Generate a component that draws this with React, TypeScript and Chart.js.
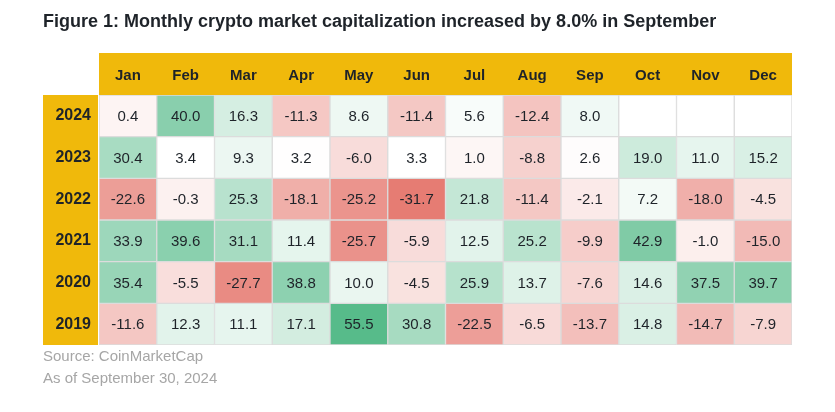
import { useEffect, useRef } from "react";
import { Chart, registerables } from "chart.js";

Chart.register(...registerables);

const months = ["Jan", "Feb", "Mar", "Apr", "May", "Jun", "Jul", "Aug", "Sep", "Oct", "Nov", "Dec"];
const years = ["2024", "2023", "2022", "2021", "2020", "2019"];

const v2024 = [0.4, 40.0, 16.3, -11.3, 8.6, -11.4, 5.6, -12.4, 8.0, null, null, null];
const v2023 = [30.4, 3.4, 9.3, 3.2, -6.0, 3.3, 1.0, -8.8, 2.6, 19.0, 11.0, 15.2];
const v2022 = [-22.6, -0.3, 25.3, -18.1, -25.2, -31.7, 21.8, -11.4, -2.1, 7.2, -18.0, -4.5];
const v2021 = [33.9, 39.6, 31.1, 11.4, -25.7, -5.9, 12.5, 25.2, -9.9, 42.9, -1.0, -15.0];
const v2020 = [35.4, -5.5, -27.7, 38.8, 10.0, -4.5, 25.9, 13.7, -7.6, 14.6, 37.5, 39.7];
const v2019 = [-11.6, 12.3, 11.1, 17.1, 55.5, 30.8, -22.5, -6.5, -13.7, 14.8, -14.7, -7.9];

const rows: (number | null)[][] = [v2024, v2023, v2022, v2021, v2020, v2019];

const titleText = "Figure 1: Monthly crypto market capitalization increased by 8.0% in September";
const footerLines = ["Source: CoinMarketCap", "As of September 30, 2024"];

const RED = [230, 124, 115];
const WHITE = [255, 255, 255];
const GREEN = [87, 187, 138];

const sorted = (rows.flat().filter((v) => v != null) as number[]).sort((a, b) => a - b);
const minV = sorted[0];
const maxV = sorted[sorted.length - 1];
const midV =
  sorted.length % 2
    ? sorted[(sorted.length - 1) / 2]
    : (sorted[sorted.length / 2 - 1] + sorted[sorted.length / 2]) / 2;

function mix(a: number[], b: number[], t: number) {
  const c = a.map((x, i) => Math.round(x + (b[i] - x) * t));
  return `rgb(${c[0]},${c[1]},${c[2]})`;
}

function colorFor(v: number | null) {
  if (v == null) return "#ffffff";
  if (v <= midV) return mix(RED, WHITE, (v - minV) / (midV - minV));
  return mix(WHITE, GREEN, (v - midV) / (maxV - midV));
}

const FONT = "'Liberation Sans', Arial, sans-serif";

const headerBg = {
  id: "headerBg",
  beforeDraw(chart: any) {
    const ctx = chart.ctx;
    ctx.save();
    ctx.fillStyle = "#f0b90b";
    const xs = chart.scales.x;
    ctx.fillRect(xs.left, xs.top, xs.width, xs.height);
    const ys = chart.scales.yr;
    ctx.fillRect(ys.left, ys.top, ys.width - 1, ys.height);
    ctx.restore();
  },
};

const cellLabels = {
  id: "cellLabels",
  afterDatasetsDraw(chart: any) {
    const ctx = chart.ctx;
    ctx.save();
    ctx.font = `15px ${FONT}`;
    ctx.fillStyle = "#1e2329";
    ctx.textAlign = "center";
    ctx.textBaseline = "middle";
    chart.data.datasets.forEach((_ds: any, di: number) => {
      const meta = chart.getDatasetMeta(di);
      meta.data.forEach((el: any, i: number) => {
        const v = rows[di][i];
        if (v == null) return;
        const p = el.getCenterPoint();
        ctx.fillText(v.toFixed(1), p.x, p.y + 1);
      });
    });
    ctx.restore();
  },
};

export default function App() {
  const ref = useRef<HTMLCanvasElement>(null);

  useEffect(() => {
    document.body.style.margin = "0";
    const canvas = ref.current;
    if (!canvas) return;
    const chart = new Chart(canvas, {
      type: "bar",
      data: {
        labels: months,
        datasets: rows.map((vals, r) => ({
          label: years[r],
          data: vals.map(() => [r, r + 1]),
          backgroundColor: vals.map((v) => colorFor(v)),
          borderColor: "#dcdcdc",
          borderWidth: 1,
          borderSkipped: false,
          grouped: false,
          barPercentage: 1,
          categoryPercentage: 1,
          yAxisID: "y",
        })) as any,
      },
      plugins: [headerBg, cellLabels],
      options: {
        responsive: false,
        animation: false,
        events: [],
        layout: { padding: { left: 43, right: 43, top: 0, bottom: 0 } },
        scales: {
          x: {
            type: "category",
            position: "top",
            offset: true,
            grid: { display: false },
            border: { display: false },
            ticks: {
              color: "#1e2329",
              font: { family: FONT, size: 15, weight: "bold" },
              padding: 2,
              maxRotation: 0,
            },
            afterFit: (s: any) => {
              s.height = 42;
            },
          },
          y: {
            type: "linear",
            display: false,
            min: 0,
            max: 6,
            reverse: true,
          },
          yr: {
            type: "category",
            position: "left",
            labels: years,
            offset: true,
            grid: { display: false },
            border: { display: false },
            ticks: {
              color: "#1e2329",
              font: { family: FONT, size: 16, weight: "bold" },
              crossAlign: "center",
              padding: 0,
            },
            afterFit: (s: any) => {
              s.width = 56;
            },
          },
        } as any,
        plugins: {
          legend: { display: false },
          tooltip: { enabled: false },
          title: {
            display: true,
            text: titleText,
            align: "start",
            color: "#1e2329",
            font: { family: FONT, size: 18, weight: "bold", lineHeight: 1.2 },
            padding: { top: 11, bottom: 20.4 },
          },
          subtitle: {
            display: true,
            position: "bottom",
            text: footerLines,
            align: "start",
            color: "#a6a6a6",
            font: { family: FONT, size: 15, weight: "normal", lineHeight: 22 / 15 },
            padding: { top: 1, bottom: 22 },
          },
        },
      },
    });
    return () => chart.destroy();
  }, []);

  return <canvas ref={ref} width={835} height={412} />;
}
